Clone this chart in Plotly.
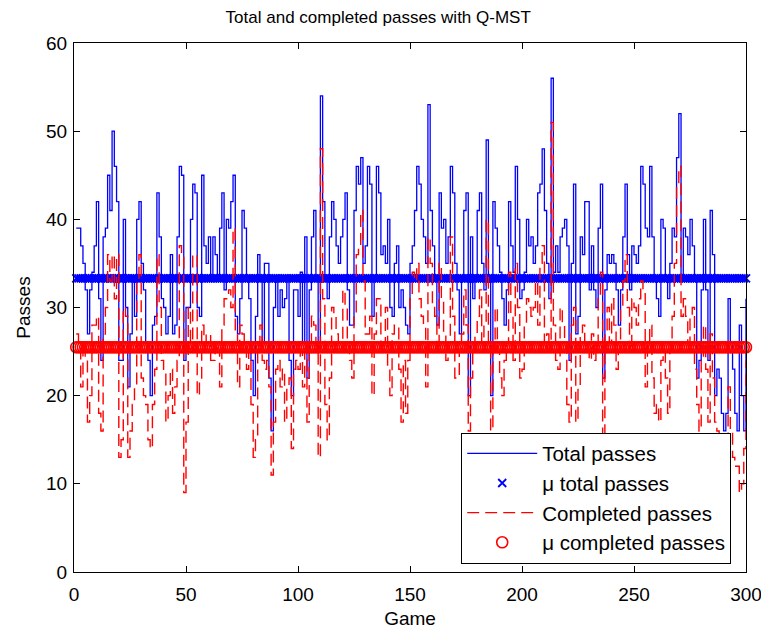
import plotly.graph_objects as go

# Game numbers (one entry per match)
GAMES = list(range(1, 301))

# Total passes per game
TOTAL = [
    39, 39, 37, 35, 32, 27, 32, 34, 37, 42,
    31, 24, 38, 39, 45, 41, 50, 46, 42, 24,
    24, 40, 30, 21, 27, 33, 29, 40, 42, 35,
    32, 26, 24, 20, 28, 29, 43, 38, 31, 30,
    27, 29, 36, 27, 28, 38, 46, 45, 24,
    30, 30, 40, 44, 43, 30, 29, 45, 37, 35,
    38, 33, 38, 36, 33, 39, 43, 32, 40, 39,
    42, 45, 29, 27, 31, 41, 39, 33, 31, 24,
    20, 29, 36, 33, 26, 35, 35, 22, 16, 30,
    33, 29, 32, 30, 31, 33, 24, 20, 32, 32,
    29, 34, 26, 38,
    22, 32, 38, 41, 33, 25, 54, 42, 33, 31,
    38, 42, 40, 37, 35, 38, 40, 43, 32, 28,
    28, 41, 46, 44, 47, 35, 37, 46, 44, 29,
    33, 46, 43, 36, 37, 35, 40, 30, 29, 35,
    37, 30, 32, 30, 28, 27, 35, 37, 41, 46,
    44,
    40, 38, 35, 53, 41, 37, 33, 28, 43, 39,
    40, 35, 38, 46, 43, 35, 32, 27, 33, 41,
    43, 20, 38, 31, 33, 41, 43, 35, 32, 49,
    33, 20, 42, 39, 37, 34, 31, 28, 32, 42,
    37, 34, 46, 40, 31, 32, 34, 40, 37, 38,
    35,
    37, 43, 44, 48, 41, 35, 31, 56, 34, 37,
    34, 38, 39, 40, 37, 24, 35, 44, 27, 29,
    38, 36, 42, 42, 32, 37, 32, 30, 39, 44,
    22, 32, 36, 35, 36, 35, 32, 28, 32, 38,
    44, 36, 32, 37, 36, 35, 37, 46, 44, 39,
    38,
    46, 38, 33, 31, 29, 40, 39, 33, 31, 35,
    39, 38, 47, 52, 33, 39, 38, 36, 40, 37,
    33, 22, 24, 32, 40, 32, 24, 41, 36, 20,
    23, 22, 18, 16, 18, 31, 26, 23, 18, 16,
    28, 20, 16, 31,
]

# Completed passes per game
COMPLETED = [
    27, 26, 21, 26, 24, 17, 20, 28, 28, 29,
    18, 16, 27, 30, 36, 33, 36, 31, 36, 13,
    15, 30, 29, 13, 16, 19, 21, 33, 36, 22,
    20, 19, 15, 14, 19, 23, 36, 30, 24, 23,
    17, 20, 23, 18, 21, 24, 37, 36, 9,
    17, 30, 25, 36, 36, 20, 22, 28, 26, 27,
    27, 24, 24, 26, 25, 21, 28, 31, 31, 32,
    30, 39, 27, 21, 28, 27, 26, 23, 25, 19,
    13, 15, 26, 28, 24, 23, 24, 21, 11, 17,
    23, 24, 21, 23, 17, 21, 22, 14, 23, 24,
    23, 25, 21, 26,
    17, 26, 29, 28, 26, 13, 48, 31, 19, 15,
    22, 30, 29, 27, 26, 25, 32, 30, 26, 24,
    22, 29, 36, 37, 41, 33, 27, 27, 29, 20,
    27, 31, 31, 25, 26, 30, 23, 20, 27, 28,
    28, 23, 17, 24, 18, 24, 31, 34, 33, 35,
    31,
    29, 28, 21, 38, 35, 30, 29, 25, 35, 31,
    27, 24, 26, 38, 29, 22, 22, 25, 27, 32,
    28, 16, 22, 25, 27, 29, 32, 26, 28, 40,
    26, 15, 25, 30, 25, 22, 20, 24, 26, 34,
    29, 24, 35, 30, 22, 23, 28, 31, 30, 29,
    30,
    33, 28, 35, 37, 25, 27, 25, 51, 28, 24,
    23, 30, 28, 26, 19, 17, 28, 30, 17, 21,
    27, 28, 26, 25, 24, 27, 24, 25, 31, 34,
    15, 27, 30, 26, 31, 28, 23, 25, 30, 33,
    36, 30, 25, 31, 30, 28, 31, 33, 32, 21,
    26,
    28, 22, 18, 19, 17, 24, 25, 22, 18, 25,
    29, 35, 44, 46, 29, 31, 29, 26, 29, 30,
    23, 19, 16, 24, 28, 23, 17, 27, 22, 17,
    16, 14, 15, 15, 15, 21, 16, 13, 12, 12,
    9, 10, 14, 24,
]

# Season averages
MU_TOTAL = 33.3
MU_COMPLETED = 25.5

X_TICKS = [0, 50, 100, 150, 200, 250, 300]
Y_TICKS = [0, 10, 20, 30, 40, 50, 60]

FONT = "Liberation Sans, Arial, sans-serif"

fig = go.Figure()

fig.add_trace(go.Scatter(
    x=GAMES, y=TOTAL, mode="lines", name="Total passes",
    line=dict(color="#0000ff", width=1.3, shape="hv"),
))
fig.add_trace(go.Scatter(
    x=GAMES, y=[MU_TOTAL] * len(GAMES), mode="markers", name="\u03bc total passes",
    marker=dict(symbol="x-thin-open", size=8, color="#0000ff",
                line=dict(color="#0000ff", width=1.8)),
    cliponaxis=False,
))
fig.add_trace(go.Scatter(
    x=GAMES, y=COMPLETED, mode="lines", name="Completed passes",
    line=dict(color="#ff0000", width=1.4, dash="12px,6px", shape="hv"),
))
fig.add_trace(go.Scatter(
    x=GAMES, y=[MU_COMPLETED] * len(GAMES), mode="markers", name="\u03bc completed passes",
    marker=dict(symbol="circle-open", size=11, color="#ff0000",
                line=dict(color="#ff0000", width=1.6)),
    cliponaxis=False,
))

axis_common = dict(
    showline=True, linecolor="#000000", linewidth=1, mirror="ticks",
    ticks="inside", ticklen=6, tickcolor="#000000", tickwidth=1,
    showgrid=False, zeroline=False, ticklabeloverflow="allow",
    automargin=False,
    tickfont=dict(family=FONT, size=19, color="#000000"),
)

fig.update_layout(
    width=761, height=631,
    margin=dict(l=74, r=15, t=43, b=59),
    paper_bgcolor="#ffffff", plot_bgcolor="#ffffff",
    font=dict(family=FONT, color="#000000"),
    title=dict(text="Total and completed passes with Q-MST",
               font=dict(family=FONT, size=17, color="#000000"),
               x=0.497, xanchor="center", xref="container",
               y=0.973, yanchor="middle", yref="container"),
    xaxis=dict(range=[0, 300], tickvals=X_TICKS, ticklabelstandoff=5,
               title=dict(text="Game", font=dict(family=FONT, size=19), standoff=7),
               **axis_common),
    yaxis=dict(range=[0, 60], tickvals=Y_TICKS, ticklabelstandoff=2,
               title=dict(text="Passes", font=dict(family=FONT, size=19), standoff=10),
               **axis_common),
    legend=dict(
        x=0.978, xanchor="right", y=0.016, yanchor="bottom",
        bgcolor="#ffffff", bordercolor="#000000", borderwidth=1,
        font=dict(family=FONT, size=20.5, color="#000000"),
        itemwidth=70, tracegroupgap=0,
    ),
    showlegend=True,
)

fig.write_html("out.html")
